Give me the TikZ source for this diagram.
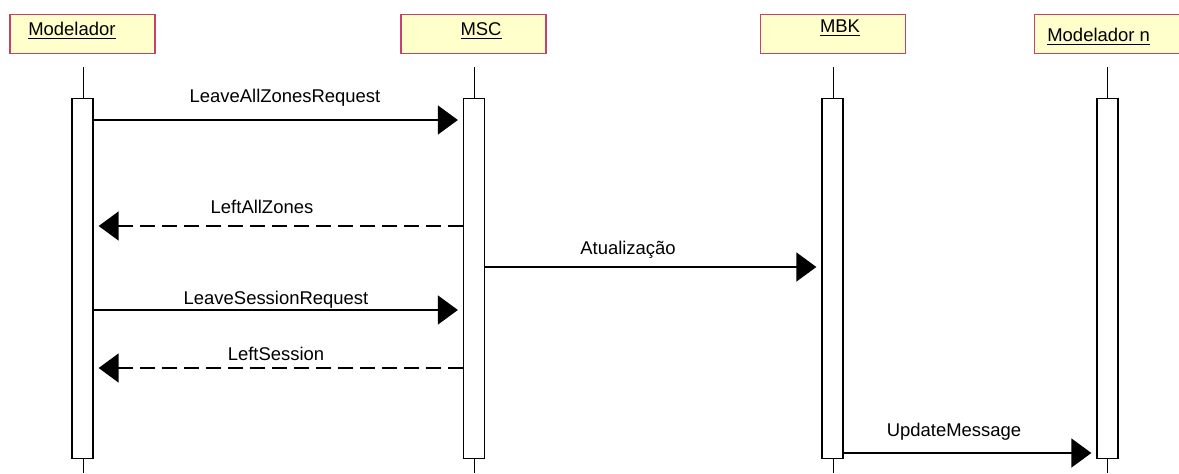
\documentclass[tikz,border=0pt]{standalone}
\usepackage{fontspec}
\setmainfont{Liberation Sans}
\usetikzlibrary{arrows.meta,calc}
\definecolor{headfill}{HTML}{FFFFCC}
\definecolor{headline}{HTML}{C4426C}
% underlined header name with a heavier rule
\newcommand\hdul[1]{\vtop{\hbox{#1}\kern0.9pt\hrule height 0.85pt}}
\begin{document}
\begin{tikzpicture}[x=0.02cm,y=-0.02cm,
  head/.style={draw=headline,fill=headfill,line width=0.7pt,minimum width=2.9cm,minimum height=0.78cm,inner sep=0pt},
  htext/.style={font=\fontsize{10.5}{12}\selectfont,inner sep=0pt,anchor=base},
  life/.style={line width=0.5pt},
  act/.style={draw,fill=white,line width=0.75pt,minimum width=0.42cm,minimum height=7.2cm,inner sep=0pt,anchor=north},
  msg/.style={line width=0.85pt,-{Triangle[length=0.4cm,width=0.58cm]}},
  reply/.style={msg,dash pattern=on 0.3cm off 0.14cm},
  lbl/.style={font=\fontsize{10.5}{12}\selectfont,inner sep=0pt}]
\useasboundingbox (0,0) rectangle (1179,473);

% lifeline headers
\node[head] (hA) at (82.5,34) {};
\node[head] (hB) at (473.5,34) {};
\node[head] (hC) at (833,34) {};
\node[head,minimum width=3.1cm,anchor=west] (hD) at (1034,34) {};
\node[htext,anchor=base west] (tA) at (28,36) {\hdul{Modelador}};
\node[htext] (tB) at (481,36) {\hdul{MSC}};
\node[htext] (tC) at (840,33) {\hdul{MBK}};
\node[htext,anchor=base west] (tD) at (1047,42) {\hdul{Modelador n}};

% lifelines
\coordinate (lA) at (83,67);  \coordinate (lAe) at (83,473);
\coordinate (lB) at (474,67); \coordinate (lBe) at (474,473);
\coordinate (lC) at (833,67); \coordinate (lCe) at (833,473);
\coordinate (lD) at (1107,67);\coordinate (lDe) at (1107,473);
\draw[life] (lA) -- (lAe);
\draw[life] (lB) -- (lBe);
\draw[life] (lC) -- (lCe);
\draw[life] (lD) -- (lDe);

% activation bars
\node[act] (aA) at (82.5,98) {};
\node[act] (aB) at (474,98) {};
\node[act] (aC) at (832.5,98) {};
\node[act] (aD) at (1107.5,98) {};

% message end points
\coordinate (m1) at (0,120);
\coordinate (m2) at (0,226);
\coordinate (m3) at (0,267);
\coordinate (m4) at (0,310);
\coordinate (m5) at (0,368);
\coordinate (m6) at (0,453);
\coordinate (gap) at (5,0);

\draw[msg] (aA.east |- m1) -- ($(aB.west |- m1)-(gap)$);
\draw[reply] (aB.west |- m2) -- ($(aA.east |- m2)+(gap)$);
\draw[msg] (aB.east |- m3) -- ($(aC.west |- m3)-(gap)$);
\draw[msg] (aA.east |- m4) -- ($(aB.west |- m4)-(gap)$);
\draw[reply] (aB.west |- m5) -- ($(aA.east |- m5)+(gap)$);
\draw[msg] (aC.east |- m6) -- ($(aD.west |- m6)-(gap)$);

% message labels
\node[lbl] (l1) at (285,98) {LeaveAllZonesRequest};
\node[lbl] (l2) at (262,207) {LeftAllZones};
\node[lbl] (l3) at (628,250) {Atualização};
\node[lbl] (l4) at (276,300) {LeaveSessionRequest};
\node[lbl] (l5) at (276,354) {LeftSession};
\node[lbl] (l6) at (954,432) {UpdateMessage};
\end{tikzpicture}
\end{document}
